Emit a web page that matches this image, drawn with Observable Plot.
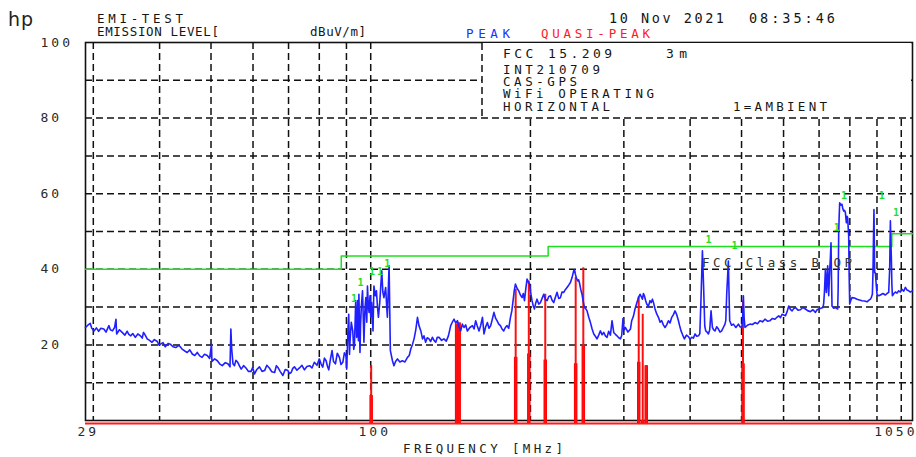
<!DOCTYPE html>
<html>
<head>
<meta charset="utf-8">
<script src="https://cdn.jsdelivr.net/npm/d3@7"></script>
<script src="https://cdn.jsdelivr.net/npm/@observablehq/plot@0.6"></script>
<style>
  html, body { margin: 0; padding: 0; background: #fff; }
  #chart { position: relative; width: 916px; height: 457px; }
  #chart svg.overlay { position: absolute; left: 0; top: 0; pointer-events: none; }
  #chart svg:not(.overlay) text { letter-spacing: 3px; }
</style>
</head>
<body>
<div id="chart"></div>
<script>
// ---- Scan data: frequency [MHz], level [dBuV/m] ----

// Peak detector sweep (blue)
const peakScan = [
  [29.0,24.6],[29.3,25.2],[29.6,25.7],[29.8,24.4],[30.1,23.7],[30.4,24.5],[30.7,23.6],[31.0,24.4],[31.4,24.2],[31.7,23.4],
  [32.1,25.1],[32.3,24.0],[32.6,23.7],[32.9,24.6],[33.1,26.8],[33.2,22.9],[33.6,24.0],[34.0,23.3],[34.4,22.6],[34.75,23.6],
  [35.0,22.8],[35.3,22.4],[35.6,23.0],[36.0,22.0],[36.4,22.9],[36.8,22.4],[37.1,21.8],[37.3,23.3],[37.6,22.5],[37.9,21.6],
  [38.3,21.2],[38.7,20.7],[39.1,21.4],[39.6,20.9],[39.9,20.0],[40.15,20.2],[40.6,20.6],[41.0,19.5],[41.5,20.4],[41.9,20.2],
  [42.4,19.5],[42.9,19.3],[43.5,19.9],[44.1,18.9],[44.6,18.4],[45.1,18.0],[45.6,18.7],[46.1,17.6],[46.6,17.2],[47.1,18.0],
  [47.6,17.1],[48.1,16.7],[48.6,17.5],[49.2,17.2],[49.7,16.4],[50.1,20.2],[50.2,15.6],[50.8,16.3],[51.4,15.8],[51.9,15.0],
  [52.5,14.5],[53.2,15.3],[53.8,15.0],[54.3,14.2],[54.5,24.2],[54.7,18.9],[55.0,15.0],[55.35,14.5],[55.7,15.9],[56.15,15.4],
  [56.6,14.4],[57.0,13.6],[57.6,14.5],[58.2,13.9],[58.8,13.0],[59.5,13.0],[59.9,14.0],[60.4,12.3],[61.0,13.5],[61.7,14.2],
  [62.4,13.0],[63.1,13.2],[63.7,14.6],[64.4,13.9],[65.1,12.9],[65.9,12.7],[66.4,14.5],[66.8,14.1],[67.5,13.0],[68.3,11.9],
  [69.0,13.5],[69.8,13.2],[70.3,12.4],[70.8,12.7],[71.3,13.8],[71.8,14.2],[72.6,13.3],[73.4,13.9],[74.2,14.6],[75.0,13.4],
  [75.8,14.3],[76.7,14.5],[77.5,13.9],[78.3,15.4],[79.2,14.6],[80.0,16.3],[80.6,15.0],[81.2,14.1],[81.8,16.5],[82.4,15.8],
  [82.9,14.3],[83.35,13.4],[83.9,16.0],[84.55,18.5],[85.1,15.6],[85.8,15.0],[86.5,17.8],[87.3,16.7],[87.9,14.8],[88.6,15.4],
  [89.2,17.9],[89.8,17.2],[90.1,13.6],[90.6,24.0],[90.9,28.1],[91.2,17.5],[91.4,20.7],[91.9,26.0],[92.5,23.7],[92.9,18.8],
  [93.2,20.2],[93.7,31.7],[94.1,22.0],[94.5,31.7],[94.8,21.1],[95.0,33.4],[95.45,18.0],[95.7,25.5],[96.0,30.0],[96.5,34.3],
  [97.1,20.7],[97.5,29.0],[97.9,32.5],[98.3,26.0],[98.6,35.6],[99.0,30.0],[99.3,28.6],[99.7,33.0],[100.0,27.3],[100.4,31.2],
  [101.0,23.7],[101.4,35.6],[102.0,33.0],[102.5,34.3],[103.0,30.0],[103.4,27.3],[104.0,31.2],[104.9,39.6],[105.4,34.0],[105.9,32.5],
  [106.7,35.2],[107.2,30.0],[107.5,27.3],[108.0,36.0],[108.3,40.9],[108.9,18.5],[109.9,15.8],[110.6,14.5],[111.4,15.6],[112.3,16.3],
  [113.5,15.5],[114.7,15.8],[116.0,15.5],[117.3,16.7],[118.2,17.2],[119.0,18.9],[119.9,20.2],[120.7,21.6],[121.6,24.0],[122.5,27.3],
  [123.3,25.1],[124.3,23.7],[125.2,21.6],[126.0,22.4],[126.9,20.7],[127.8,21.9],[128.8,21.6],[129.7,20.9],[130.7,22.0],[131.6,21.2],
  [132.6,20.7],[133.5,22.0],[134.5,22.0],[136.0,21.2],[137.4,21.6],[138.8,21.0],[140.1,22.4],[141.5,25.1],[142.5,26.0],[143.6,26.8],
  [144.6,25.8],[145.7,26.4],[146.7,24.8],[147.8,23.7],[148.8,25.5],[149.9,24.6],[151.0,25.3],[152.1,23.7],[153.8,24.6],[155.5,25.1],
  [156.6,24.2],[157.7,26.4],[158.8,25.0],[160.0,23.7],[161.2,25.2],[162.4,27.3],[163.5,22.9],[164.7,24.8],[165.9,25.9],[167.1,24.4],
  [168.3,25.1],[169.5,26.8],[170.7,28.6],[172.0,27.0],[173.0,26.4],[174.3,25.5],[175.6,25.1],[176.8,24.2],[178.1,23.7],[179.4,24.6],
  [180.7,25.1],[182.0,24.4],[183.4,27.3],[184.5,29.0],[185.5,31.7],[186.5,34.5],[187.4,36.1],[188.7,35.0],[190.1,34.3],[191.5,33.2],
  [192.9,32.5],[193.9,33.6],[194.9,31.7],[196.0,34.8],[197.1,37.4],[198.2,36.6],[199.4,36.1],[200.4,33.5],[201.4,31.7],[202.5,30.3],
  [203.5,29.5],[204.6,31.0],[205.8,32.1],[207.3,30.8],[208.9,31.2],[210.4,32.3],[211.9,33.4],[213.4,32.0],[215.0,31.7],[216.6,32.8],
  [218.2,33.0],[219.7,31.8],[221.3,31.2],[222.9,32.6],[224.5,33.9],[226.1,32.3],[227.8,32.5],[229.4,34.0],[231.1,33.9],[232.7,34.6],
  [234.4,35.2],[236.1,35.8],[237.9,36.5],[239.6,37.8],[241.3,39.6],[242.2,39.9],[243.1,38.7],[244.3,37.6],[245.6,36.9],[246.6,37.2],
  [247.7,36.1],[248.9,34.6],[250.2,33.4],[251.5,31.5],[252.8,29.9],[254.2,29.6],[255.7,29.0],[257.6,27.3],[259.5,25.9],[261.4,24.2],
  [263.3,22.9],[265.1,22.3],[267.0,21.6],[269.0,22.6],[271.0,23.7],[272.9,22.7],[274.9,23.3],[276.9,22.4],[278.9,22.0],[280.9,23.6],
  [283.0,22.6],[285.0,26.4],[287.1,23.3],[289.2,22.8],[291.2,22.4],[293.4,21.9],[295.6,21.6],[297.2,22.5],[298.9,27.0],[300.5,24.0],
  [302.1,24.6],[305.4,23.4],[308.7,24.2],[310.4,26.4],[312.6,27.5],[314.9,29.5],[317.2,31.0],[319.6,32.5],[321.8,33.4],[323.5,32.8],
  [325.2,32.1],[326.6,33.6],[328.0,33.0],[329.6,31.8],[331.3,30.8],[333.7,30.2],[336.1,31.7],[337.8,31.2],[339.6,32.1],[341.5,31.0],
  [343.5,29.5],[346.0,28.2],[348.6,27.3],[351.1,26.0],[353.6,26.4],[356.1,25.3],[358.7,24.6],[361.3,25.3],[364.0,26.4],[366.6,25.8],
  [369.3,27.3],[372.0,28.0],[374.6,29.0],[377.4,28.0],[380.2,26.4],[382.3,25.0],[384.5,23.7],[387.3,22.6],[390.2,21.6],[393.6,22.6],
  [397.1,22.2],[400.0,21.5],[402.8,22.0],[405.7,21.8],[408.6,22.9],[411.6,22.3],[414.7,22.4],[417.2,23.0],[419.4,32.5],[421.9,44.9],
  [424.3,34.3],[426.2,25.0],[428.0,23.7],[430.5,23.4],[433.0,22.9],[435.5,24.0],[438.0,29.0],[440.6,24.6],[443.1,24.0],[445.6,23.7],
  [448.9,24.8],[452.2,24.2],[455.4,23.4],[458.7,23.7],[462.0,24.6],[465.3,25.5],[467.0,26.5],[468.8,33.4],[472.2,42.2],[473.5,34.0],
  [474.9,26.4],[478.7,25.2],[482.6,25.5],[487.9,24.6],[493.2,25.5],[496.7,24.8],[500.3,24.6],[502.0,26.0],[504.0,33.0],[505.7,27.0],
  [507.5,24.6],[513.0,25.2],[518.6,25.5],[524.3,25.4],[530.0,25.9],[535.8,25.6],[541.6,26.4],[547.5,26.1],[553.5,26.8],[559.5,26.3],
  [565.6,26.4],[571.8,27.0],[578.0,26.8],[582.8,27.3],[587.6,27.7],[592.0,27.2],[596.1,28.1],[600.5,27.9],[605.0,27.7],[609.3,28.8],
  [613.7,30.3],[618.1,29.4],[622.5,29.0],[627.1,29.6],[631.8,29.9],[638.7,29.2],[645.6,29.3],[652.7,29.9],[659.8,29.5],[667.0,29.0],
  [674.2,28.8],[681.6,29.3],[689.0,28.6],[694.0,29.3],[698.9,29.5],[705.5,29.7],[712.1,29.9],[714.2,31.0],[716.4,33.9],[718.0,37.0],
  [719.5,40.0],[721.0,36.0],[722.6,33.9],[724.7,38.0],[726.7,40.9],[728.3,36.0],[729.9,33.0],[731.5,36.5],[733.1,40.0],[735.2,43.0],
  [737.2,47.0],[738.8,38.0],[740.4,30.3],[745.9,29.7],[751.4,29.9],[755.2,29.7],[758.9,29.5],[760.5,35.0],[762.2,49.7],[763.8,54.0],
  [765.5,57.6],[769.4,57.0],[773.2,57.2],[776.0,56.0],[778.9,55.4],[781.8,55.6],[784.7,55.0],[786.4,53.5],[788.1,52.3],[790.3,54.0],
  [792.6,53.6],[794.3,51.0],[796.0,48.8],[797.7,38.0],[799.5,30.8],[803.5,31.8],[807.5,32.5],[816.3,32.4],[825.2,32.1],[834.2,31.9],
  [843.3,31.7],[852.5,31.6],[861.8,31.4],[868.2,31.8],[874.6,32.1],[878.4,32.6],[882.2,33.4],[884.5,39.1],[886.4,48.0],[888.3,55.8],
  [890.0,45.0],[891.0,39.1],[893.8,39.1],[896.9,36.0],[900.0,33.4],[906.7,33.0],[913.4,33.2],[923.4,33.6],[933.4,33.2],[940.1,33.6],
  [946.9,33.9],[951.0,40.0],[953.9,52.8],[956.0,47.0],[958.0,42.7],[960.1,36.0],[962.2,33.0],[968.5,33.6],[974.8,34.0],[981.9,33.7],
  [989.0,34.3],[996.1,34.0],[1003.3,34.7],[1010.7,34.2],[1018.2,35.2],[1025.5,34.5],[1032.9,34.3],[1040.3,34.0],[1050,34.3]
];

// Quasi-peak re-measurements (red): frequency, final reading, settling reading
const qpSpikes = [
  [100.2, 14.5, 6.6],
  [145.2, 25.5, 25.5],
  [146.8, 25.8, 25.8],
  [187.6, 34.7, 16.7],
  [198.6, 36.9, 17.6],
  [213.3, 33.4, 16.0],
  [243.4, 37.8, 15.0],
  [251.6, 40.4, 19.8],
  [320.0, 32.7, 15.4],
  [325.6, 28.1, 0],
  [330.6, 14.5, 14.5],
  [503.2, 31.6, 15.0]
];
const qpFloor = -0.8;

// FCC 15.209 Class B limit steps (start frequency, level)
const limitSteps = [[29, 40], [88, 43.5], [216, 46], [960, 49.4], [1050, 49.4]];

// Ambient signals flagged "1"
const ambientMarks = [
  [93.0, 32.3], [95.7, 36.4], [100.6, 39.3], [104.1, 39.3], [107.5, 41.4],
  [433.0, 47.8], [484.8, 46.1], [755.6, 50.9], [780.1, 59.5], [918.6, 59.5], [977.5, 55.0]
];

// Axes
const freqGrid = [30, 40, 50, 60, 70, 80, 90, 100, 200, 300, 400, 500, 600, 700, 800, 900, 1000];
const levelGrid = [10, 20, 30, 40, 50, 60, 70, 80, 90];
const levelTicks = [20, 40, 60, 80, 100];
const freqTicks = [29, 100, 1050];

// Header and test set-up text
const titleLines = ["EMI-TEST", "EMISSION LEVEL[", "dBuV/m]"];
const traceNames = ["PEAK", "QUASI-PEAK"];
const timeStamp = ["10 Nov 2021", "08:35:46"];
const testInfo = ["FCC 15.209", "3m", "INT210709", "CAS-GPS", "WiFi OPERATING", "HORIZONTAL", "1=AMBIENT"];
const limitName = "FCC Class B QP";
const freqTitle = "FREQUENCY [MHz]";

const mono = "'DejaVu Sans Mono', 'Liberation Mono', monospace";
const grid = {stroke: "#111", strokeWidth: 1.5, strokeDasharray: "7,4"};
const fmt = d => String(d);

const chart = Plot.plot({
  width: 916,
  height: 457,
  marginLeft: 85,
  marginRight: 4,
  marginTop: 42,
  marginBottom: 37,
  style: {fontFamily: mono, fontSize: "13px", color: "#2a2a2a", background: "#fff"},
  x: {type: "log", domain: [29, 1050]},
  y: {domain: [0, 100]},
  marks: [
    Plot.ruleY(levelGrid, grid),
    Plot.ruleX(freqGrid, grid),
    Plot.frame({stroke: "#111", strokeWidth: 1.6}),
    Plot.line(limitSteps, {x: d => d[0], y: d => d[1], curve: "step-after", stroke: "#1fe01f", strokeWidth: 1.5}),
    Plot.ruleY([qpFloor], {stroke: "#ff1a1a", strokeWidth: 2.2}),
    Plot.ruleX(qpSpikes, {x: d => d[0], y1: qpFloor, y2: d => d[2], stroke: "#ff0000", strokeWidth: 3.5}),
    Plot.ruleX(qpSpikes, {x: d => d[0], y1: qpFloor, y2: d => d[1], stroke: "#ff1010", strokeWidth: 2}),
    Plot.line(peakScan, {x: d => d[0], y: d => d[1], stroke: "#1f1fff", strokeWidth: 1.6}),
    Plot.text(ambientMarks, {x: d => d[0], y: d => d[1], text: () => "1", fill: "#1fe01f", fontSize: 10, fontWeight: "bold", dx: 1.5}),
    Plot.axisY(levelTicks, {anchor: "left", tickSize: 0, tickPadding: 0, textAnchor: "start", dx: -45, fontSize: 13, tickFormat: fmt, label: null}),
    Plot.axisX([freqTicks[0]], {anchor: "bottom", tickSize: 0, tickPadding: 6, textAnchor: "start", dx: -8, fontSize: 13, tickFormat: fmt, label: null}),
    Plot.axisX([freqTicks[1]], {anchor: "bottom", tickSize: 0, tickPadding: 6, dx: 4, fontSize: 13, tickFormat: fmt, label: null}),
    Plot.axisX([freqTicks[2]], {anchor: "bottom", tickSize: 0, tickPadding: 6, textAnchor: "end", dx: 5, fontSize: 13, tickFormat: fmt, label: null})
  ]
});

const host = document.getElementById("chart");
host.appendChild(chart);

// Header, set-up box and axis title drawn as a layer over the plot
const layer = d3.select(host).append("svg")
  .attr("class", "overlay")
  .attr("width", 916)
  .attr("height", 457);

// set-up box hides the grid behind it
layer.append("rect").attr("x", 482).attr("y", 43).attr("width", 429).attr("height", 72.5).attr("fill", "#fff");
layer.append("line")
  .attr("x1", 482).attr("x2", 482).attr("y1", 43).attr("y2", 117)
  .attr("stroke", "#111").attr("stroke-width", 1.5).attr("stroke-dasharray", "7,4");

function label(text, x, y, w, opts = {}) {
  layer.append("text")
    .attr("x", x).attr("y", y)
    .attr("textLength", w).attr("lengthAdjust", "spacing")
    .attr("font-family", opts.family || mono)
    .attr("font-size", opts.size || 12.5)
    .attr("fill", opts.fill || "#151515")
    .text(text);
}

label("hp", 8, 26, 25, {family: "'DejaVu Sans', sans-serif", size: 19, fill: "#222"});
label(titleLines[0], 97, 22.5, 86);
label(titleLines[1], 97, 35.5, 122);
label(titleLines[2], 310, 35.5, 56);
label(traceNames[0], 466, 37.5, 44, {fill: "#2030ff"});
label(traceNames[1], 541, 37.5, 109, {fill: "#ff1a1a"});
label(timeStamp[0], 609, 23, 115, {size: 13.5});
label(timeStamp[1], 749, 23, 86, {size: 13.5});

label(testInfo[0], 503, 58, 109, {size: 13});
label(testInfo[1], 666, 58, 21, {size: 13});
label(testInfo[2], 503, 74, 97);
label(testInfo[3], 503, 86.3, 74);
label(testInfo[4], 503, 97.5, 151);
label(testInfo[5], 503, 110.5, 107);
label(testInfo[6], 733, 110.5, 94);

label(limitName, 702, 266.5, 150, {fill: "#333"});
label(freqTitle, 403, 453, 160, {fill: "#222"});
</script>
</body>
</html>
